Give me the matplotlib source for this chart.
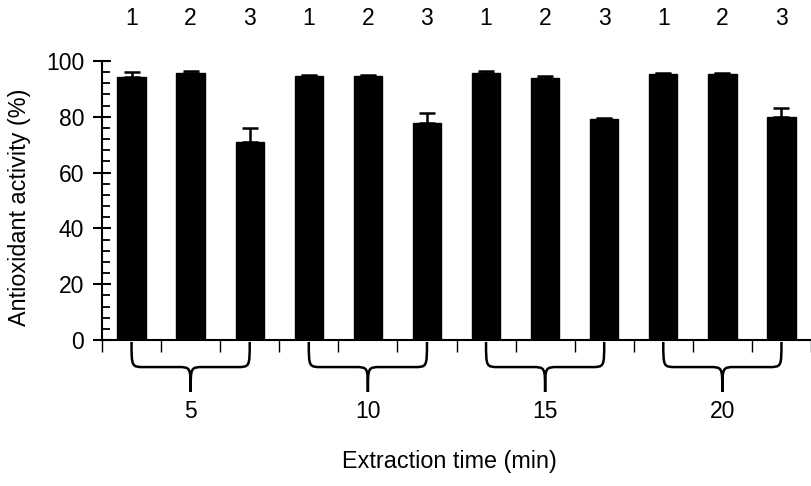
import matplotlib
matplotlib.use("Agg")
import matplotlib.pyplot as plt
from matplotlib.path import Path
from matplotlib.patches import PathPatch
from matplotlib.transforms import blended_transform_factory
from matplotlib.ticker import MultipleLocator
import numpy as np

plt.rcParams['font.family'] = ['Liberation Sans', 'DejaVu Sans']

# data
times = ["5", "10", "15", "20"]
samples = ["1", "2", "3"]
values = [94.2, 95.8, 71.1,
          94.6, 94.6, 77.9,
          95.8, 93.8, 79.1,
          95.3, 95.3, 80.0]
errors = [2.0, 0.5, 4.8,
          0.5, 0.5, 3.3,
          0.5, 1.0, 0.5,
          0.5, 0.5, 3.0]

W, H = 811, 486
fig = plt.figure(figsize=(W / 100, H / 100), dpi=100)
ax = fig.add_axes([102 / W, 146 / H, 709 / W, 279 / H])

x = np.arange(len(values))
ax.bar(x, values, width=0.48, color='black', edgecolor='black', zorder=2)
ax.errorbar(x, values, yerr=[np.zeros(len(values)), errors], fmt='none',
            ecolor='black', elinewidth=1.8, capsize=5.5, capthick=1.8, zorder=3)

ax.set_xlim(-0.5, 11.42)
ax.set_ylim(0, 100)

for s in ['top', 'right']:
    ax.spines[s].set_visible(False)
for s in ['left', 'bottom']:
    ax.spines[s].set_linewidth(1.5)

ax.set_yticks(np.arange(0, 101, 20))
ax.yaxis.set_minor_locator(MultipleLocator(4))
ax.tick_params(axis='y', which='major', direction='inout', length=13.5, width=1.5,
               labelsize=16.5, pad=6)
ax.tick_params(axis='y', which='minor', direction='in', length=5.8, width=1.3)
ax.set_xticks(np.arange(-0.5, 12, 1))
ax.tick_params(axis='x', which='major', direction='out', length=8.6, width=1.0,
               labelbottom=False)

trans = blended_transform_factory(ax.transData, ax.transAxes)

# sample numbers above bars
for i in range(len(values)):
    ax.text(x[i], 1.154, samples[i % 3], transform=trans, ha='center', va='center',
            fontsize=16.5, clip_on=False)

# braces and group labels
yt, ym, yb = -0.007, -0.097, -0.186
rx = 0.22
for g, lab in enumerate(times):
    xc = 3 * g + 1
    x0, x1 = xc - 1.0, xc + 1.0
    verts = [(x0, yt), (x0, ym), (x0, ym), (x0 + rx, ym),
             (xc - rx, ym),
             (xc, ym), (xc, ym), (xc, yb),
             (xc, ym), (xc, ym), (xc + rx, ym),
             (x1 - rx, ym),
             (x1, ym), (x1, ym), (x1, yt)]
    codes = [Path.MOVETO, Path.CURVE4, Path.CURVE4, Path.CURVE4,
             Path.LINETO,
             Path.CURVE4, Path.CURVE4, Path.CURVE4,
             Path.CURVE4, Path.CURVE4, Path.CURVE4,
             Path.LINETO,
             Path.CURVE4, Path.CURVE4, Path.CURVE4]
    patch = PathPatch(Path(verts, codes), transform=trans, facecolor='none',
                      edgecolor='black', linewidth=1.8, clip_on=False)
    ax.add_patch(patch)
    ax.text(xc, -0.258, lab, transform=trans, ha='center', va='center',
            fontsize=16.5, clip_on=False)

fig.text(20 / W, (H - 207) / H, "Antioxidant activity (%)", rotation=90,
         ha='center', va='center', fontsize=16.8)
fig.text(449 / W, (H - 461) / H, "Extraction time (min)", ha='center', va='center',
         fontsize=16.8)

fig.savefig("out.png", dpi=100)
